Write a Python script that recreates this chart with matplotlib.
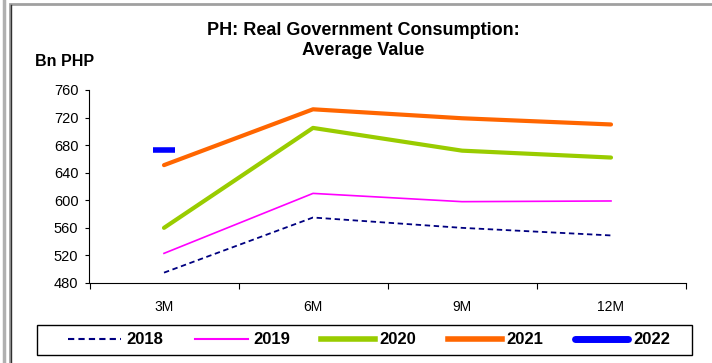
import matplotlib
matplotlib.use("Agg")
import matplotlib.pyplot as plt
from matplotlib.lines import Line2D
from matplotlib.patches import Rectangle

plt.rcParams['font.family'] = ['Liberation Sans', 'DejaVu Sans']

periods = ['3M', '6M', '9M', '12M']
v2018 = [495, 575, 560, 549]
v2019 = [523, 610, 598, 599]
v2020 = [560, 705, 672, 662]
v2021 = [651, 732, 719, 710]
v2022 = [673]

fig = plt.figure(figsize=(7.12, 3.63), dpi=100)
ax = fig.add_axes([89.5 / 712, 1 - 283 / 363, 596 / 712, 193 / 363])

x = range(len(periods))
ax.plot(x, v2018, color='#000080', lw=1.3, ls=(0, (3, 2)))
ax.plot(x, v2019, color='#ff00ff', lw=1.2)
ax.plot(x, v2020, color='#99cc00', lw=3, solid_capstyle='round')
ax.plot(x, v2021, color='#ff6600', lw=3, solid_capstyle='round')
ax.plot(range(len(v2022)), v2022, color='#0000ff', ls='none',
        marker='_', markersize=16, markeredgewidth=4,
        markeredgecolor='#0000ff')

ax.set_xlim(-0.5, 3.5)
ax.set_ylim(480, 760)
ax.set_yticks(range(480, 761, 40))
ax.set_xticks([i + 0.5 for i in range(-1, 4)])
ax.set_xticklabels([])
ax.set_xticks(list(x), minor=True)
ax.set_xticklabels(periods, minor=True)
ax.tick_params(axis='x', which='minor', length=0, pad=12, labelsize=10)
ax.tick_params(axis='x', which='major', length=4, direction='out')
ax.tick_params(axis='y', length=3, direction='out', labelsize=10.5, pad=5)
ax.spines['top'].set_visible(False)
ax.spines['right'].set_visible(False)

fig.text(363 / 712, 1 - 40.5 / 363, 'PH: Real Government Consumption:\nAverage Value',
         ha='center', va='center', fontsize=13, fontweight='bold', linespacing=1.3)
fig.text(35 / 712, 1 - 62 / 363, 'Bn PHP', ha='left', va='center',
         fontsize=11.5, fontweight='bold')

handles = [
    Line2D([], [], color='#000080', lw=1.5, ls=(0, (3, 2))),
    Line2D([], [], color='#ff00ff', lw=1.5),
    Line2D([], [], color='#99cc00', lw=4),
    Line2D([], [], color='#ff6600', lw=4),
    Line2D([], [], color='#0000ff', lw=5, solid_capstyle='round'),
]
fig.legend(handles, ['2018', '2019', '2020', '2021', '2022'],
           loc='center', bbox_to_anchor=(369 / 712, 1 - 340 / 363),
           ncol=5, frameon=False, prop={'weight': 'bold', 'size': 12},
           handlelength=3.2, columnspacing=1.9, handletextpad=0.3)
# legend box
fig.add_artist(Rectangle((37 / 712, 1 - 355 / 363), 655 / 712, 30 / 363,
                         transform=fig.transFigure, fill=False,
                         edgecolor='black', lw=1))

# outer chart frame
fig.add_artist(Rectangle((10 / 712, -0.1), 1.2, 1 - 4 / 363 + 0.1,
                         transform=fig.transFigure, fill=False,
                         edgecolor='#a0a0a0', lw=2))
fig.add_artist(Line2D([10.5 / 712, 10.5 / 712], [0, 1 - 5 / 363],
                      transform=fig.transFigure, color='#303030', lw=1))
fig.add_artist(Line2D([4 / 712, 4 / 712], [0, 1],
                      transform=fig.transFigure, color='#b0b0b0', lw=2.5))

fig.savefig('out.png', dpi=100)
